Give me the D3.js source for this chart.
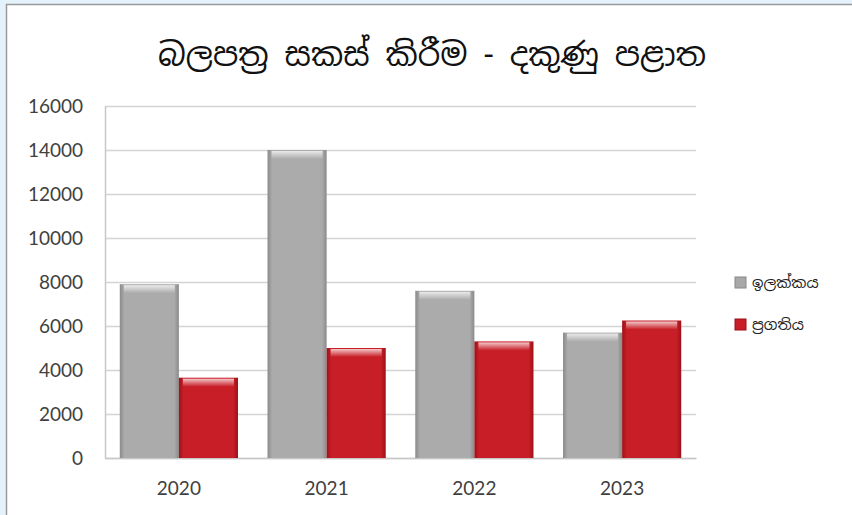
<!DOCTYPE html>
<html>
<head>
<meta charset="utf-8">
<script src="https://cdn.jsdelivr.net/npm/d3@7"></script>
<style>
  html, body { margin: 0; padding: 0; background: #e4f2fb; }
  svg { display: block; }
</style>
</head>
<body>
<svg id="chart" width="852" height="515"></svg>
<script>
// data
const years = ["2020", "2021", "2022", "2023"]
const target = [7900, 14000, 7600, 5700]     // ඉලක්කය
const progress = [3650, 5000, 5300, 6250]    // ප්‍රගතිය
const yTicks = [0, 2000, 4000, 6000, 8000, 10000, 12000, 14000, 16000]
const seriesNames = ["ඉලක්කය", "ප්‍රගතිය"]
const titleText = "බලපත්‍ර සකස් කිරීම - දකුණු පළාත"

const svg = d3.select("#chart")
const sinhalaFont = "'Iskoola Pota', 'Noto Sans Sinhala', 'Noto Serif Sinhala', 'LKLUG', 'Noto Sans', sans-serif"
const numFont = "Lato, 'Open Sans', sans-serif"

// panel
svg.append("rect").attr("x", 6.5).attr("y", 4.5).attr("width", 860).attr("height", 520)
    .attr("fill", "#fff").attr("stroke", "#9a9a9a").attr("stroke-width", 1.5)

let margin = { left: 105, right: 156, top: 106, bottom: 57 }
let width = 852, height = 515

let yScale = d3.scaleLinear().domain([0, 16000]).range([height - margin.bottom, margin.top])
let x0 = d3.scaleBand().domain(years).range([margin.left, width - margin.right])
    .paddingInner(0.2).paddingOuter(0.1)
let x1 = d3.scaleBand().domain([0, 1]).range([0, x0.bandwidth()])

// gradients (bevel look)
const defs = svg.append("defs")
function bevel(id, edge, mid) {
    let g = defs.append("linearGradient").attr("id", id).attr("x1", 0).attr("x2", 1).attr("y1", 0).attr("y2", 0)
    g.append("stop").attr("offset", 0).attr("stop-color", edge)
    g.append("stop").attr("offset", 0.08).attr("stop-color", mid)
    g.append("stop").attr("offset", 0.92).attr("stop-color", mid)
    g.append("stop").attr("offset", 1).attr("stop-color", edge)
}
bevel("gGray", "#8a8a8a", "#ababab")
bevel("gRed", "#9c1118", "#c81e27")
let hl = defs.append("linearGradient").attr("id", "hl").attr("x1", 0).attr("x2", 0).attr("y1", 0).attr("y2", 1)
hl.append("stop").attr("offset", 0).attr("stop-color", "#fff").attr("stop-opacity", 0.75)
hl.append("stop").attr("offset", 1).attr("stop-color", "#fff").attr("stop-opacity", 0)
let fills = ["url(#gGray)", "url(#gRed)"]
let flat = ["#a8a8a8", "#c81e27"]

// gridlines
svg.append("g").selectAll("line").data(yTicks).enter().append("line")
    .attr("x1", margin.left).attr("x2", width - margin.right)
    .attr("y1", d => yScale(d) + 0.5).attr("y2", d => yScale(d) + 0.5)
    .attr("stroke", "#d4d4d4").attr("stroke-width", 1.5)

// y axis
let yAxis = svg.append("g").attr("transform", "translate(" + margin.left + ",0)")
    .call(d3.axisLeft(yScale).tickValues(yTicks).tickSize(0).tickPadding(22).tickFormat(d3.format("d")))
yAxis.select(".domain").attr("stroke", "#c8c8c8").attr("stroke-width", 1.5)
yAxis.selectAll("text").attr("font-family", numFont).attr("font-size", "19px").attr("fill", "#404040")

// x axis
let xAxis = svg.append("g").attr("transform", "translate(0," + (height - margin.bottom) + ")")
    .call(d3.axisBottom(x0).tickSize(0).tickPadding(24))
xAxis.select(".domain").attr("stroke", "#c8c8c8").attr("stroke-width", 1.5)
xAxis.selectAll("text").attr("font-family", numFont).attr("font-size", "19px").attr("fill", "#404040")

// bars
let rows = years.map((y, i) => ({ year: y, vals: [target[i], progress[i]] }))
let groups = svg.append("g").selectAll("g").data(rows).enter().append("g")
    .attr("transform", d => "translate(" + x0(d.year) + ",0)")
groups.selectAll("rect.bar").data(d => d.vals.map((v, k) => ({ k: k, v: v }))).enter().append("rect")
    .attr("class", "bar")
    .attr("x", d => x1(d.k)).attr("width", x1.bandwidth())
    .attr("y", d => yScale(d.v)).attr("height", d => yScale(0) - yScale(d.v))
    .attr("fill", d => fills[d.k])
groups.selectAll("rect.hl").data(d => d.vals.map((v, k) => ({ k: k, v: v }))).enter().append("rect")
    .attr("class", "hl")
    .attr("x", d => x1(d.k) + 4).attr("width", x1.bandwidth() - 8)
    .attr("y", d => yScale(d.v) + 1).attr("height", 8)
    .attr("fill", "url(#hl)")

// title
svg.append("text").attr("x", 432).attr("y", 66).attr("text-anchor", "middle")
    .attr("font-family", sinhalaFont).attr("font-size", "32px").attr("fill", "#111")
    .text(titleText)

// legend
let legend = svg.append("g").selectAll("g").data(seriesNames).enter().append("g")
    .attr("transform", (d, i) => "translate(735," + (277 + i * 42) + ")")
legend.append("rect").attr("width", 11).attr("height", 11)
    .attr("fill", (d, i) => flat[i]).attr("stroke", (d, i) => i ? "#9c1118" : "#888")
legend.append("text").attr("x", 17).attr("y", 11)
    .attr("font-family", sinhalaFont).attr("font-size", "15px").attr("fill", "#222")
    .text(d => d)
</script>
</body>
</html>
